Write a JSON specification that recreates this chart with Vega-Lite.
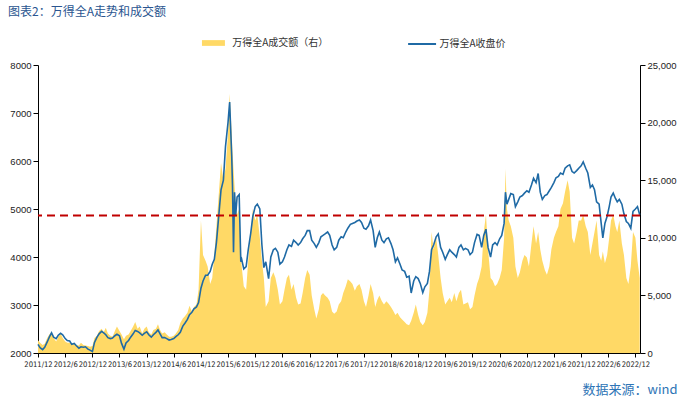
{
  "$schema": "https://vega.github.io/schema/vega-lite/v6.json",
  "width": 602,
  "height": 288,
  "autosize": {"type": "none"},
  "padding": {"left": 38, "top": 65, "right": 42, "bottom": 44},
  "background": "white",
  "config": {
    "view": {"stroke": null},
    "font": "Liberation Sans",
    "axis": {"grid": false, "domainColor": "#000", "tickColor": "#000", "labelColor": "#222", "labelFont": "Liberation Sans", "labelFontSize": 9.5, "tickSize": 5, "domainWidth": 1},
    "axisX": {
      "labelOverlap": false,
      "labelBound": false,
      "labelFlush": false,
      "labelFont": "DejaVu Sans Condensed, Liberation Sans Narrow, Liberation Sans",
      "labelFontSize": 7.6,
      "tickSize": 4,
      "labelPadding": 3,
      "titleFont": "Noto Sans CJK SC",
      "titleFontSize": 13,
      "titleFontWeight": "normal",
      "titleColor": "#2e75b6",
      "titleX": 639,
      "titleY": 36,
      "titleAlign": "right",
      "titleBaseline": "middle"
    }
  },
  "title": {
    "text": "图表2：万得全A走势和成交额",
    "anchor": "start",
    "frame": "group",
    "dx": -30,
    "offset": 18,
    "font": "Noto Sans CJK SC",
    "fontSize": 12,
    "fontWeight": "normal",
    "color": "#2a5590"
  },
  "datasets": {
    "m": [
      {"d":"2011-12-01","p":2180,"v":1100},{"d":"2011-12-15","p":2110,"v":900},
      {"d":"2012-01-01","p":2070,"v":700},{"d":"2012-01-15","p":2120,"v":800},
      {"d":"2012-02-01","p":2230,"v":1300},{"d":"2012-02-15","p":2330,"v":1600},
      {"d":"2012-03-01","p":2420,"v":1800},{"d":"2012-03-15","p":2330,"v":1300},
      {"d":"2012-04-01","p":2300,"v":1000},{"d":"2012-04-15","p":2370,"v":1400},
      {"d":"2012-05-01","p":2410,"v":1700},{"d":"2012-05-15","p":2380,"v":1300},
      {"d":"2012-06-01","p":2300,"v":1000},{"d":"2012-06-15","p":2260,"v":900},
      {"d":"2012-07-01","p":2250,"v":900},{"d":"2012-07-15","p":2180,"v":800},
      {"d":"2012-08-01","p":2200,"v":850},{"d":"2012-08-15","p":2150,"v":700},
      {"d":"2012-09-01","p":2100,"v":650},{"d":"2012-09-15","p":2130,"v":900},
      {"d":"2012-10-01","p":2120,"v":700},{"d":"2012-10-15","p":2130,"v":650},
      {"d":"2012-11-01","p":2080,"v":600},{"d":"2012-11-15","p":2060,"v":550},
      {"d":"2012-12-01","p":2030,"v":600},{"d":"2012-12-15","p":2220,"v":1300},
      {"d":"2013-01-01","p":2330,"v":1500},{"d":"2013-01-15","p":2400,"v":1900},
      {"d":"2013-02-01","p":2450,"v":2100},{"d":"2013-02-15","p":2420,"v":1800},
      {"d":"2013-03-01","p":2380,"v":2200},{"d":"2013-03-15","p":2320,"v":1700},
      {"d":"2013-04-01","p":2300,"v":1500},{"d":"2013-04-15","p":2310,"v":1400},
      {"d":"2013-05-01","p":2360,"v":1900},{"d":"2013-05-15","p":2390,"v":2300},
      {"d":"2013-06-01","p":2360,"v":1900},{"d":"2013-06-15","p":2200,"v":1600},
      {"d":"2013-07-01","p":2080,"v":1200},{"d":"2013-07-15","p":2210,"v":1500},
      {"d":"2013-08-01","p":2260,"v":1600},{"d":"2013-08-15","p":2330,"v":1900},
      {"d":"2013-09-01","p":2400,"v":2300},{"d":"2013-09-15","p":2470,"v":2700},
      {"d":"2013-10-01","p":2450,"v":2100},{"d":"2013-10-15","p":2420,"v":2300},
      {"d":"2013-11-01","p":2370,"v":1700},{"d":"2013-11-15","p":2410,"v":2100},
      {"d":"2013-12-01","p":2440,"v":2300},{"d":"2013-12-15","p":2380,"v":1800},
      {"d":"2014-01-01","p":2330,"v":1600},{"d":"2014-01-15","p":2380,"v":2000},
      {"d":"2014-02-01","p":2430,"v":2100},{"d":"2014-02-15","p":2480,"v":2500},
      {"d":"2014-03-01","p":2400,"v":2000},{"d":"2014-03-15","p":2320,"v":1700},
      {"d":"2014-04-01","p":2320,"v":1800},{"d":"2014-04-15","p":2300,"v":1600},
      {"d":"2014-05-01","p":2270,"v":1400},{"d":"2014-05-15","p":2280,"v":1400},
      {"d":"2014-06-01","p":2300,"v":1500},{"d":"2014-06-15","p":2340,"v":1700},
      {"d":"2014-07-01","p":2380,"v":2000},{"d":"2014-07-15","p":2430,"v":2600},
      {"d":"2014-08-01","p":2560,"v":3000},{"d":"2014-08-15","p":2620,"v":3200},
      {"d":"2014-09-01","p":2700,"v":3500},{"d":"2014-09-15","p":2800,"v":4100},
      {"d":"2014-10-01","p":2850,"v":3600},{"d":"2014-10-15","p":2920,"v":4000},
      {"d":"2014-11-01","p":2960,"v":4200},{"d":"2014-11-15","p":3050,"v":5500},
      {"d":"2014-12-01","p":3350,"v":11500},{"d":"2014-12-15","p":3500,"v":8500},
      {"d":"2015-01-01","p":3620,"v":8000},{"d":"2015-01-15","p":3620,"v":7500},
      {"d":"2015-02-01","p":3700,"v":6000},{"d":"2015-02-15","p":3850,"v":6500},
      {"d":"2015-03-01","p":3950,"v":8500},{"d":"2015-03-15","p":4300,"v":11000},
      {"d":"2015-04-01","p":4900,"v":14000},{"d":"2015-04-15","p":5400,"v":16500},
      {"d":"2015-05-01","p":5600,"v":15000},{"d":"2015-05-15","p":6300,"v":16000},
      {"d":"2015-06-01","p":6800,"v":19000},{"d":"2015-06-12","p":7230,"v":22500},
      {"d":"2015-06-26","p":6100,"v":19000},{"d":"2015-07-01","p":5500,"v":17500},
      {"d":"2015-07-08","p":4100,"v":16000},{"d":"2015-07-15","p":5350,"v":14500},
      {"d":"2015-07-22","p":4850,"v":13000},{"d":"2015-08-01","p":5250,"v":12000},
      {"d":"2015-08-15","p":5300,"v":12500},{"d":"2015-08-26","p":3900,"v":9000},
      {"d":"2015-09-01","p":3950,"v":7500},{"d":"2015-09-15","p":3750,"v":5800},
      {"d":"2015-10-01","p":3800,"v":5500},{"d":"2015-10-15","p":4150,"v":8000},
      {"d":"2015-11-01","p":4500,"v":10500},{"d":"2015-11-15","p":4850,"v":12500},
      {"d":"2015-12-01","p":5050,"v":11500},{"d":"2015-12-15","p":5100,"v":12000},
      {"d":"2016-01-01","p":5000,"v":10000},{"d":"2016-01-15","p":4250,"v":8000},
      {"d":"2016-01-28","p":3780,"v":6500},{"d":"2016-02-10","p":3900,"v":4000},
      {"d":"2016-02-29","p":3550,"v":4500},{"d":"2016-03-15","p":4000,"v":6500},
      {"d":"2016-04-01","p":4150,"v":7000},{"d":"2016-04-15","p":4180,"v":6500},
      {"d":"2016-05-01","p":4100,"v":5500},{"d":"2016-05-15","p":3850,"v":4200},
      {"d":"2016-06-01","p":3900,"v":4500},{"d":"2016-06-15","p":4000,"v":5500},
      {"d":"2016-07-01","p":4150,"v":6500},{"d":"2016-07-15","p":4250,"v":6800},
      {"d":"2016-08-01","p":4220,"v":5500},{"d":"2016-08-15","p":4350,"v":6000},
      {"d":"2016-09-01","p":4300,"v":4800},{"d":"2016-09-15","p":4250,"v":4200},
      {"d":"2016-10-01","p":4300,"v":4300},{"d":"2016-10-15","p":4380,"v":5200},
      {"d":"2016-11-01","p":4450,"v":6500},{"d":"2016-11-15","p":4550,"v":7200},
      {"d":"2016-12-01","p":4550,"v":6800},{"d":"2016-12-15","p":4350,"v":5000},
      {"d":"2017-01-01","p":4280,"v":3800},{"d":"2017-01-15","p":4200,"v":3000},
      {"d":"2017-02-01","p":4300,"v":3800},{"d":"2017-02-15","p":4420,"v":5000},
      {"d":"2017-03-01","p":4450,"v":5200},{"d":"2017-03-15","p":4480,"v":5000},
      {"d":"2017-04-01","p":4520,"v":4800},{"d":"2017-04-15","p":4450,"v":4500},
      {"d":"2017-05-01","p":4250,"v":3600},{"d":"2017-05-15","p":4150,"v":3400},
      {"d":"2017-06-01","p":4200,"v":3600},{"d":"2017-06-15","p":4350,"v":4200},
      {"d":"2017-07-01","p":4420,"v":4500},{"d":"2017-07-15","p":4400,"v":5200},
      {"d":"2017-08-01","p":4520,"v":5800},{"d":"2017-08-15","p":4600,"v":6400},
      {"d":"2017-09-01","p":4680,"v":6200},{"d":"2017-09-15","p":4700,"v":6000},
      {"d":"2017-10-01","p":4720,"v":5400},{"d":"2017-10-15","p":4750,"v":5800},
      {"d":"2017-11-01","p":4770,"v":6000},{"d":"2017-11-15","p":4720,"v":5500},
      {"d":"2017-12-01","p":4600,"v":4500},{"d":"2017-12-15","p":4580,"v":4000},
      {"d":"2018-01-01","p":4650,"v":5000},{"d":"2018-01-15","p":4770,"v":6000},
      {"d":"2018-02-01","p":4550,"v":5200},{"d":"2018-02-15","p":4200,"v":4000},
      {"d":"2018-03-01","p":4400,"v":4600},{"d":"2018-03-15","p":4520,"v":5000},
      {"d":"2018-04-01","p":4350,"v":4500},{"d":"2018-04-15","p":4300,"v":4200},
      {"d":"2018-05-01","p":4380,"v":4500},{"d":"2018-05-15","p":4400,"v":4300},
      {"d":"2018-06-01","p":4280,"v":4000},{"d":"2018-06-15","p":4150,"v":3700},
      {"d":"2018-07-01","p":3900,"v":3300},{"d":"2018-07-15","p":3980,"v":3500},
      {"d":"2018-08-01","p":3850,"v":3100},{"d":"2018-08-15","p":3730,"v":2900},
      {"d":"2018-09-01","p":3700,"v":2700},{"d":"2018-09-15","p":3580,"v":2500},
      {"d":"2018-10-01","p":3600,"v":2400},{"d":"2018-10-15","p":3250,"v":2800},
      {"d":"2018-11-01","p":3500,"v":3500},{"d":"2018-11-15","p":3590,"v":4200},
      {"d":"2018-12-01","p":3550,"v":3300},{"d":"2018-12-15","p":3450,"v":2700},
      {"d":"2019-01-01","p":3260,"v":2400},{"d":"2019-01-15","p":3380,"v":2700},
      {"d":"2019-02-01","p":3450,"v":3500},{"d":"2019-02-15","p":3700,"v":5500},
      {"d":"2019-03-01","p":4150,"v":10500},{"d":"2019-03-15","p":4250,"v":9000},
      {"d":"2019-04-01","p":4420,"v":10000},{"d":"2019-04-15","p":4480,"v":8500},
      {"d":"2019-05-01","p":4200,"v":6500},{"d":"2019-05-15","p":4100,"v":5200},
      {"d":"2019-06-01","p":3950,"v":4200},{"d":"2019-06-15","p":4050,"v":4500},
      {"d":"2019-07-01","p":4150,"v":4800},{"d":"2019-07-15","p":4100,"v":4400},
      {"d":"2019-08-01","p":4050,"v":5200},{"d":"2019-08-15","p":4000,"v":4500},
      {"d":"2019-09-01","p":4200,"v":5200},{"d":"2019-09-15","p":4250,"v":5500},
      {"d":"2019-10-01","p":4150,"v":4200},{"d":"2019-10-15","p":4180,"v":4300},
      {"d":"2019-11-01","p":4150,"v":4400},{"d":"2019-11-15","p":4050,"v":3800},
      {"d":"2019-12-01","p":4100,"v":4000},{"d":"2019-12-15","p":4300,"v":5000},
      {"d":"2020-01-01","p":4470,"v":6000},{"d":"2020-01-15","p":4450,"v":6500},
      {"d":"2020-02-01","p":4200,"v":7500},{"d":"2020-02-15","p":4450,"v":10500},
      {"d":"2020-03-01","p":4580,"v":12000},{"d":"2020-03-15","p":4200,"v":9000},
      {"d":"2020-04-01","p":4000,"v":6500},{"d":"2020-04-15","p":4250,"v":6300},
      {"d":"2020-05-01","p":4300,"v":5800},{"d":"2020-05-15","p":4250,"v":6000},
      {"d":"2020-06-01","p":4380,"v":6500},{"d":"2020-06-15","p":4450,"v":7200},
      {"d":"2020-07-01","p":4700,"v":10000},{"d":"2020-07-10","p":5350,"v":16000},
      {"d":"2020-07-20","p":5100,"v":12500},{"d":"2020-08-01","p":5200,"v":11500},
      {"d":"2020-08-15","p":5320,"v":11000},{"d":"2020-09-01","p":5300,"v":10000},
      {"d":"2020-09-15","p":5050,"v":7500},{"d":"2020-10-01","p":5150,"v":6500},
      {"d":"2020-10-15","p":5250,"v":7000},{"d":"2020-11-01","p":5280,"v":8000},
      {"d":"2020-11-15","p":5330,"v":8500},{"d":"2020-12-01","p":5380,"v":8300},
      {"d":"2020-12-15","p":5350,"v":7500},{"d":"2021-01-01","p":5500,"v":9500},
      {"d":"2021-01-15","p":5640,"v":11000},{"d":"2021-02-01","p":5550,"v":9500},
      {"d":"2021-02-15","p":5740,"v":10500},{"d":"2021-03-01","p":5350,"v":9000},
      {"d":"2021-03-15","p":5200,"v":8000},{"d":"2021-04-01","p":5280,"v":7200},
      {"d":"2021-04-15","p":5300,"v":6800},{"d":"2021-05-01","p":5380,"v":7500},
      {"d":"2021-05-15","p":5450,"v":9000},{"d":"2021-06-01","p":5550,"v":10000},
      {"d":"2021-06-15","p":5650,"v":10500},{"d":"2021-07-01","p":5680,"v":11000},
      {"d":"2021-07-15","p":5750,"v":12500},{"d":"2021-08-01","p":5720,"v":13000},
      {"d":"2021-08-15","p":5850,"v":14000},{"d":"2021-09-01","p":5900,"v":15000},
      {"d":"2021-09-15","p":5920,"v":14000},{"d":"2021-10-01","p":5780,"v":10000},
      {"d":"2021-10-15","p":5750,"v":9500},{"d":"2021-11-01","p":5800,"v":10500},
      {"d":"2021-11-15","p":5850,"v":11500},{"d":"2021-12-01","p":5900,"v":11500},
      {"d":"2021-12-15","p":5980,"v":12000},{"d":"2022-01-01","p":5850,"v":11000},
      {"d":"2022-01-15","p":5750,"v":10500},{"d":"2022-02-01","p":5450,"v":8500},
      {"d":"2022-02-15","p":5500,"v":9500},{"d":"2022-03-01","p":5400,"v":10500},
      {"d":"2022-03-15","p":5150,"v":11500},{"d":"2022-04-01","p":5100,"v":8500},
      {"d":"2022-04-15","p":4700,"v":8000},{"d":"2022-04-26","p":4400,"v":8800},
      {"d":"2022-05-10","p":4700,"v":7800},{"d":"2022-05-25","p":4850,"v":8500},
      {"d":"2022-06-08","p":5050,"v":10000},{"d":"2022-06-20","p":5250,"v":11500},
      {"d":"2022-07-05","p":5330,"v":12000},{"d":"2022-07-20","p":5220,"v":11000},
      {"d":"2022-08-01","p":5150,"v":10500},{"d":"2022-08-15","p":5200,"v":11500},
      {"d":"2022-09-01","p":5100,"v":9500},{"d":"2022-09-15","p":4900,"v":8500},
      {"d":"2022-10-01","p":4740,"v":6500},{"d":"2022-10-15","p":4700,"v":6000},
      {"d":"2022-10-31","p":4600,"v":7500},{"d":"2022-11-15","p":4950,"v":10500},
      {"d":"2022-12-01","p":5000,"v":10000},{"d":"2022-12-15","p":5050,"v":8000},
      {"d":"2022-12-30","p":4880,"v":6500}
    ],
    "ref": [{"level": 4867}]
  },
  "encoding": {
    "x": {
      "field": "d", "type": "temporal",
      "scale": {"domain": [{"year": 2011, "month": 12, "date": 1}, {"year": 2023, "month": 1, "date": 1}]},
      "axis": {
        "values": [
          {"year": 2011, "month": 12, "date": 1}, {"year": 2012, "month": 6, "date": 1},
          {"year": 2012, "month": 12, "date": 1}, {"year": 2013, "month": 6, "date": 1},
          {"year": 2013, "month": 12, "date": 1}, {"year": 2014, "month": 6, "date": 1},
          {"year": 2014, "month": 12, "date": 1}, {"year": 2015, "month": 6, "date": 1},
          {"year": 2015, "month": 12, "date": 1}, {"year": 2016, "month": 6, "date": 1},
          {"year": 2016, "month": 12, "date": 1}, {"year": 2017, "month": 6, "date": 1},
          {"year": 2017, "month": 12, "date": 1}, {"year": 2018, "month": 6, "date": 1},
          {"year": 2018, "month": 12, "date": 1}, {"year": 2019, "month": 6, "date": 1},
          {"year": 2019, "month": 12, "date": 1}, {"year": 2020, "month": 6, "date": 1},
          {"year": 2020, "month": 12, "date": 1}, {"year": 2021, "month": 6, "date": 1},
          {"year": 2021, "month": 12, "date": 1}, {"year": 2022, "month": 6, "date": 1},
          {"year": 2022, "month": 12, "date": 1}
        ],
        "format": "%Y/%-m",
        "title": "数据来源：wind"
      }
    }
  },
  "layer": [
    {
      "data": {"name": "m"},
      "mark": {"type": "area", "interpolate": "linear"},
      "encoding": {
        "y": {
          "field": "v", "type": "quantitative",
          "scale": {"domain": [0, 25000]},
          "axis": {"orient": "right", "values": [0, 5000, 10000, 15000, 20000, 25000], "format": ",d", "title": null, "labelPadding": 2}
        },
        "fill": {
          "datum": "万得全A成交额（右）",
          "scale": {"range": ["#FFD966"]},
          "legend": {
            "orient": "none", "legendX": 163.7, "legendY": -28, "title": null, "padding": 0,
            "symbolType": "M-1,-0.5H3V0.5H-1Z", "symbolSize": 132, "symbolStrokeWidth": 0,
            "labelOffset": 18.5, "labelFont": "Noto Sans CJK SC", "labelFontSize": 10, "labelColor": "#333"
          }
        }
      }
    },
    {
      "layer": [
        {
          "data": {"name": "m"},
          "mark": {"type": "line", "strokeWidth": 1.6, "interpolate": "linear"},
          "encoding": {
            "y": {
              "field": "p", "type": "quantitative",
              "scale": {"domain": [2000, 8000]},
              "axis": {"orient": "left", "values": [2000, 3000, 4000, 5000, 6000, 7000, 8000], "format": "d", "title": null, "labelPadding": 2}
            },
            "stroke": {
              "datum": "万得全A收盘价",
              "scale": {"range": ["#1f6aa5"]},
              "legend": {
                "orient": "none", "legendX": 368.7, "legendY": -28, "title": null, "padding": 0,
                "symbolType": "M-1,0H4", "symbolSize": 125, "symbolStrokeWidth": 2,
                "labelOffset": 18.8, "labelFont": "Noto Sans CJK SC", "labelFontSize": 10, "labelColor": "#333"
              }
            }
          }
        },
        {
          "data": {"name": "ref"},
          "mark": {"type": "rule", "color": "#c00000", "strokeWidth": 2, "strokeDash": [8, 5]},
          "encoding": {"x": null, "y": {"field": "level", "type": "quantitative"}}
        }
      ]
    }
  ],
  "resolve": {"scale": {"y": "independent"}, "axis": {"y": "independent"}}
}
